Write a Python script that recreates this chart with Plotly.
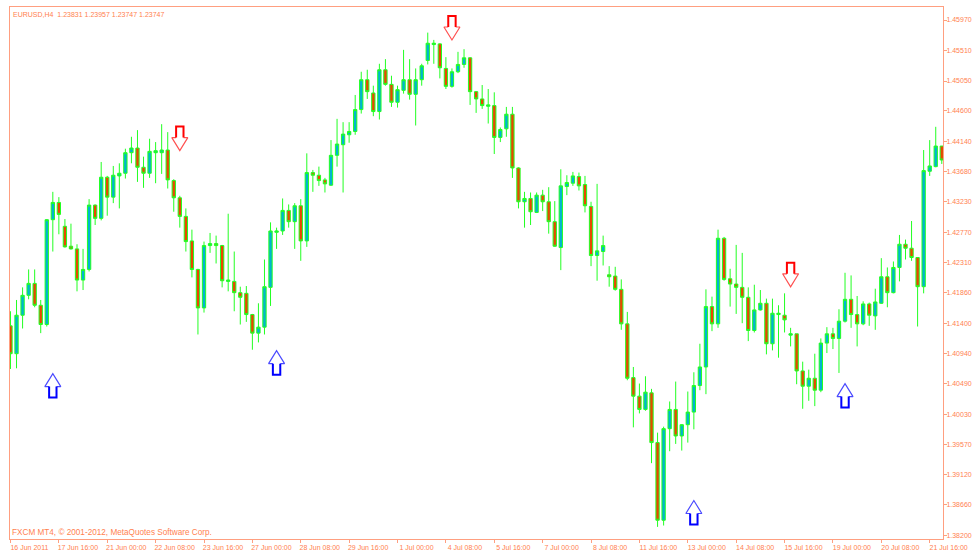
import plotly.graph_objects as go

open_prices = [
1.4136,1.4094,1.4152,1.4182,1.4200,1.4167,1.4138,1.4296,1.4322,1.4286,
1.4256,1.4252,1.4205,1.4221,1.4318,1.4298,1.4360,1.4330,1.4362,1.4366,
1.4397,1.4404,1.4375,1.4366,1.4397,1.4397,1.4401,1.4355,1.4329,1.4301,
1.4264,1.4221,1.4163,1.4257,1.4260,1.4257,1.4203,1.4203,1.4186,1.4185,
1.4153,1.4125,1.4134,1.4194,1.4277,1.4279,1.4310,1.4293,1.4317,1.4264,
1.4367,1.4363,1.4356,1.4348,1.4393,1.4409,1.4424,1.4429,1.4462,1.4507,
1.4487,1.4459,1.4522,1.4500,1.4473,1.4491,1.4507,1.4485,1.4507,1.4536,
1.4560,1.4561,1.4524,1.4497,1.4519,1.4530,1.4540,1.4489,1.4478,1.4467,
1.4468,1.4420,1.4433,1.4455,1.4374,1.4323,1.4328,1.4307,1.4333,1.4323,
1.4293,1.4254,1.4346,1.4351,1.4361,1.4349,1.4316,1.4242,1.4248,1.4213,
1.4211,1.4191,1.4139,1.4058,1.4030,1.4010,1.4035,1.3960,1.3843,1.3981,
1.4010,1.3970,1.3987,1.4006,1.4046,1.4074,1.4165,1.4139,1.4268,1.4207,
1.4199,1.4194,1.4179,1.4129,1.4160,1.4170,1.4109,1.4153,1.4152,1.4122,
1.4124,1.4068,1.4045,1.4057,1.4039,1.4110,1.4124,1.4117,1.4143,1.4176,
1.4153,1.4139,1.4169,1.4151,1.4170,1.4210,1.4186,1.4224,1.4259,1.4253,
1.4239,1.4195,1.4369,1.4376,1.4407]
high_prices = [
1.4158,1.4175,1.4194,1.4221,1.4221,1.4175,1.4297,1.4338,1.4330,1.4297,
1.4290,1.4259,1.4252,1.4327,1.4319,1.4383,1.4362,1.4377,1.4381,1.4403,
1.4421,1.4431,1.4391,1.4418,1.4413,1.4440,1.4428,1.4357,1.4332,1.4313,
1.4281,1.4222,1.4263,1.4276,1.4272,1.4258,1.4305,1.4248,1.4195,1.4196,
1.4154,1.4170,1.4236,1.4292,1.4284,1.4328,1.4319,1.4321,1.4327,1.4396,
1.4371,1.4376,1.4359,1.4416,1.4448,1.4443,1.4443,1.4484,1.4519,1.4522,
1.4498,1.4531,1.4538,1.4513,1.4498,1.4552,1.4538,1.4524,1.4531,1.4578,
1.4567,1.4562,1.4541,1.4524,1.4549,1.4553,1.4541,1.4490,1.4499,1.4493,
1.4488,1.4435,1.4466,1.4466,1.4375,1.4338,1.4337,1.4337,1.4341,1.4345,
1.4324,1.4372,1.4363,1.4368,1.4367,1.4362,1.4323,1.4350,1.4272,1.4226,
1.4225,1.4206,1.4157,1.4074,1.4049,1.4060,1.4041,1.3975,1.3984,1.4022,
1.4052,1.3988,1.4037,1.4066,1.4109,1.4191,1.4180,1.4281,1.4270,1.4222,
1.4258,1.4246,1.4194,1.4198,1.4190,1.4177,1.4177,1.4167,1.4185,1.4133,
1.4124,1.4082,1.4070,1.4094,1.4117,1.4134,1.4133,1.4161,1.4216,1.4212,
1.4181,1.4173,1.4171,1.4192,1.4238,1.4224,1.4233,1.4273,1.4266,1.4294,
1.4239,1.4401,1.4416,1.4436,1.4407]
low_prices = [
1.4071,1.4072,1.4132,1.4176,1.4164,1.4125,1.4135,1.4248,1.4274,1.4254,
1.4251,1.4188,1.4190,1.4218,1.4288,1.4295,1.4302,1.4321,1.4313,1.4358,
1.4381,1.4353,1.4344,1.4359,1.4351,1.4365,1.4343,1.4308,1.4284,1.4248,
1.4209,1.4123,1.4156,1.4246,1.4230,1.4194,1.4188,1.4158,1.4138,1.4142,
1.4100,1.4111,1.4123,1.4166,1.4252,1.4273,1.4284,1.4252,1.4234,1.4255,
1.4338,1.4347,1.4337,1.4347,1.4376,1.4337,1.4412,1.4424,1.4456,1.4478,
1.4452,1.4447,1.4498,1.4466,1.4465,1.4486,1.4477,1.4438,1.4498,1.4530,
1.4531,1.4509,1.4493,1.4495,1.4517,1.4525,1.4469,1.4457,1.4463,1.4441,
1.4395,1.4413,1.4421,1.4359,1.4313,1.4284,1.4288,1.4306,1.4309,1.4275,
1.4255,1.4220,1.4333,1.4347,1.4340,1.4307,1.4226,1.4204,1.4227,1.4195,
1.4189,1.4130,1.4054,1.3983,1.4004,1.4008,1.3929,1.3833,1.3835,1.3947,
1.3958,1.3948,1.3960,1.3980,1.4039,1.4033,1.4128,1.4133,1.4204,1.4165,
1.4154,1.4140,1.4113,1.4126,1.4159,1.4093,1.4099,1.4088,1.4126,1.4105,
1.4048,1.4011,1.4023,1.4015,1.4036,1.4095,1.4101,1.4065,1.4141,1.4133,
1.4105,1.4137,1.4136,1.4130,1.4169,1.4164,1.4185,1.4203,1.4236,1.4234,
1.4135,1.4185,1.4362,1.4375,1.4380]
close_prices = [
1.4094,1.4152,1.4182,1.4200,1.4167,1.4138,1.4296,1.4322,1.4304,1.4255,
1.4252,1.4205,1.4221,1.4318,1.4298,1.4360,1.4330,1.4363,1.4366,1.4397,
1.4404,1.4375,1.4366,1.4399,1.4400,1.4401,1.4356,1.4329,1.4301,1.4263,
1.4221,1.4163,1.4257,1.4260,1.4257,1.4204,1.4205,1.4186,1.4179,1.4153,
1.4125,1.4134,1.4195,1.4279,1.4279,1.4310,1.4293,1.4317,1.4264,1.4367,
1.4363,1.4355,1.4350,1.4393,1.4410,1.4425,1.4429,1.4462,1.4507,1.4489,
1.4459,1.4522,1.4500,1.4473,1.4492,1.4507,1.4485,1.4507,1.4528,1.4562,
1.4562,1.4525,1.4497,1.4519,1.4530,1.4540,1.4489,1.4478,1.4468,1.4469,
1.4420,1.4432,1.4455,1.4374,1.4323,1.4328,1.4308,1.4333,1.4323,1.4293,
1.4256,1.4347,1.4352,1.4362,1.4347,1.4317,1.4242,1.4249,1.4257,1.4210,
1.4191,1.4139,1.4057,1.4030,1.4010,1.4036,1.3960,1.3843,1.3981,1.4010,
1.3970,1.3987,1.4006,1.4046,1.4074,1.4165,1.4139,1.4268,1.4206,1.4199,
1.4194,1.4179,1.4129,1.4160,1.4170,1.4109,1.4155,1.4155,1.4145,1.4124,
1.4068,1.4045,1.4057,1.4039,1.4110,1.4124,1.4117,1.4143,1.4176,1.4153,
1.4139,1.4169,1.4152,1.4172,1.4210,1.4186,1.4224,1.4259,1.4253,1.4239,
1.4195,1.4370,1.4377,1.4407,1.4386]

price_ticks = [1.45970,1.45510,1.45050,1.44600,1.44140,1.43680,1.43230,1.42770,1.42310,
               1.41860,1.41400,1.40940,1.40490,1.40030,1.39570,1.39120,1.38660,1.38200]
time_tick_bars = list(range(0, 153, 8))
time_tick_labels = ["16 Jun 2011","17 Jun 16:00","21 Jun 00:00","22 Jun 08:00","23 Jun 16:00",
                    "27 Jun 00:00","28 Jun 08:00","29 Jun 16:00","1 Jul 00:00","4 Jul 08:00",
                    "5 Jul 16:00","7 Jul 00:00","8 Jul 08:00","11 Jul 16:00","13 Jul 00:00",
                    "14 Jul 08:00","15 Jul 16:00","19 Jul 00:00","20 Jul 08:00","21 Jul 16:00"]
up_arrow_bars = [7, 44, 113, 138]
up_arrow_tips = [1.4064, 1.40986, 1.38727, 1.40489]
down_arrow_bars = [28, 73, 129]
down_arrow_tips = [1.44002, 1.45669, 1.41949]

WIDTH, HEIGHT = 973, 553
L, R, T, B = 10, 943.3, 7, 539.5
X_RANGE = [-0.08, 154.2]
Y_RANGE = [1.38147, 1.46166]
PX_X = (X_RANGE[1] - X_RANGE[0]) / (R - L)
PX_Y = (Y_RANGE[1] - Y_RANGE[0]) / (B - T)
FONT = "Liberation Sans, sans-serif"
TEXT = "#FF7F50"
AXIS = "#FF9F80"


def arrow(bars, tips, direction):
    """Outline pieces of a hollow arrow; direction +1 points up, -1 points down."""
    hx, hy, sx, sy = [], [], [], []
    for b, t in zip(bars, tips):
        def P(dx, dy):
            return b + dx * PX_X, t - direction * dy * PX_Y
        head = [P(-3.7, 13), P(-8, 13), P(0, 0), P(8, 13), P(3.7, 13)]
        shaft = [P(-3.7, 13), P(-3.7, 24), P(3.7, 24), P(3.7, 13)]
        hx += [p[0] for p in head] + [None]
        hy += [p[1] for p in head] + [None]
        sx += [p[0] for p in shaft] + [None]
        sy += [p[1] for p in shaft] + [None]
    return hx, hy, sx, sy


fig = go.Figure()
fig.add_trace(go.Candlestick(
    x=list(range(len(open_prices))),
    open=open_prices, high=high_prices, low=low_prices, close=close_prices,
    whiskerwidth=0,
    increasing=dict(line=dict(color="#22FF22", width=1), fillcolor="#00B4D0"),
    decreasing=dict(line=dict(color="#22FF22", width=1), fillcolor="#E84800"),
    showlegend=False, hoverinfo="skip",
))
for bars, tips, d, thick, thin in [
    (up_arrow_bars, up_arrow_tips, 1, "#0000FF", "#4A4AFF"),
    (down_arrow_bars, down_arrow_tips, -1, "#FF0000", "#FF5050"),
]:
    hx, hy, sx, sy = arrow(bars, tips, d)
    fig.add_trace(go.Scatter(x=hx, y=hy, mode="lines", line=dict(color=thin, width=1.2),
                             showlegend=False, hoverinfo="skip"))
    fig.add_trace(go.Scatter(x=sx, y=sy, mode="lines", line=dict(color=thick, width=2),
                             showlegend=False, hoverinfo="skip"))

fig.update_layout(
    width=WIDTH, height=HEIGHT,
    margin=dict(l=L, r=WIDTH - R, t=T, b=HEIGHT - B, autoexpand=False),
    paper_bgcolor="white", plot_bgcolor="white",
    font=dict(family=FONT, size=7, color=TEXT),
    showlegend=False,
    boxgap=0.22,
    xaxis=dict(
        range=X_RANGE, rangeslider=dict(visible=False), showgrid=False, zeroline=False,
        showline=True, mirror=True, linecolor=AXIS, linewidth=1,
        ticks="outside", ticklen=3, tickcolor=AXIS, tickwidth=1,
        tickmode="array", tickvals=time_tick_bars, ticktext=time_tick_labels,
        ticklabelshift=19, ticklabelstandoff=-1, tickangle=0,
        tickfont=dict(family=FONT, size=7, color=TEXT),
    ),
    yaxis=dict(
        range=Y_RANGE, side="right", showgrid=False, zeroline=False,
        showline=True, mirror=True, linecolor=AXIS, linewidth=1,
        ticks="outside", ticklen=3, tickcolor=AXIS, tickwidth=1,
        tickmode="array", tickvals=price_ticks, tickformat=".5f",
        ticklabelstandoff=-2,
        tickfont=dict(family=FONT, size=7, color=TEXT),
    ),
    annotations=[
        dict(text="EURUSD,H4  1.23831 1.23957 1.23747 1.23747", xref="paper", yref="paper",
             x=1 / (R - L), y=1 - 8 / (B - T), xanchor="left", yanchor="middle",
             showarrow=False, font=dict(family=FONT, size=7, color=TEXT)),
        dict(text="FXCM MT4, © 2001-2012, MetaQuotes Software Corp.", xref="paper", yref="paper",
             x=0, y=7 / (B - T), xanchor="left", yanchor="middle",
             showarrow=False, font=dict(family=FONT, size=8.2, color=TEXT)),
    ],
)
fig.write_html("out.html", config={"displayModeBar": False},
               post_script="document.body.style.margin='0';document.documentElement.style.overflow='hidden';")
